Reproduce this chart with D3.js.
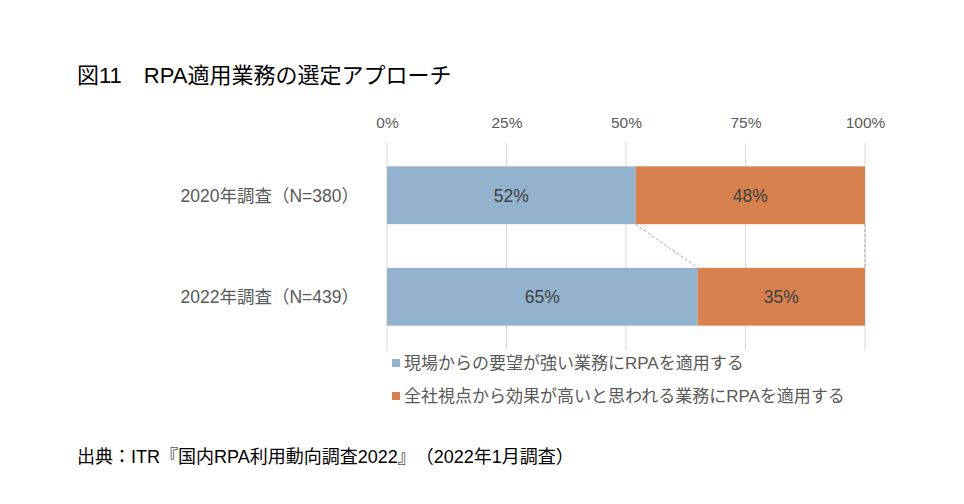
<!DOCTYPE html>
<html lang="ja">
<head>
  <meta charset="UTF-8">
  <title>RPA適用業務の選定アプローチ</title>
  <script src="https://d3js.org/d3.v7.min.js"></script>
  <style>
    body { margin: 0; background: #fff; }
    svg text { font-family: 'Liberation Sans', 'Noto Sans CJK JP', sans-serif; text-spacing-trim: space-all; }
  </style>
</head>
<body>
  <div id="chart"></div>
  <script>
    // データ
    const categories = ["2020年調査（N=380）", "2022年調査（N=439）"];
    const seriesNames = ["現場からの要望が強い業務にRPAを適用する", "全社視点から効果が高いと思われる業務にRPAを適用する"];
    const fieldDemand = [52, 65];
    const companyWide = [48, 35];
    const tickValues = [0, 25, 50, 75, 100];
    const colors = ["#93b2cd", "#d6814e"];

    const W = 964, H = 504;
    const svg = d3.select("#chart").append("svg")
      .attr("width", W).attr("height", H);

    // タイトル
    svg.append("text")
      .attr("x", 77).attr("y", 83)
      .attr("font-size", 22).attr("fill", "#000")
      .text("図11　RPA適用業務の選定アプローチ");

    const x = d3.scaleLinear().domain([0, 100]).range([387, 865]);
    const y = d3.scaleBand().domain(categories).range([143, 349])
      .paddingInner(0.43).paddingOuter(0.23);

    // グリッド線
    svg.append("g").selectAll("line")
      .data(tickValues)
      .join("line")
      .attr("x1", d => x(d)).attr("x2", d => x(d))
      .attr("y1", 143).attr("y2", 350)
      .attr("stroke", "#d9d9d9").attr("stroke-width", 1);

    // 上部の目盛ラベル
    const axisTop = svg.append("g")
      .attr("transform", "translate(0,131)")
      .call(d3.axisTop(x).tickValues(tickValues).tickFormat(d => d + "%").tickSize(0));
    axisTop.select(".domain").remove();
    axisTop.selectAll("text")
      .attr("font-family", null)
      .attr("font-size", 15.5).attr("fill", "#595959");

    // 積み上げ
    const rows = categories.map((c, i) => ({ cat: c, vals: [fieldDemand[i], companyWide[i]] }));
    const stacked = rows.map(r => {
      let acc = 0;
      return r.vals.map((v, k) => { const s = { cat: r.cat, k, x0: acc, x1: acc + v, v }; acc += v; return s; });
    });

    // 区分線（破線）
    const bw = y.bandwidth();
    const connectors = [0, 1].map(k => ({
      xa: stacked[0][k].x1, ya: y(categories[0]) + bw,
      xb: stacked[1][k].x1, yb: y(categories[1])
    }));
    svg.append("g").selectAll("line")
      .data(connectors)
      .join("line")
      .attr("x1", d => x(d.xa)).attr("y1", d => d.ya)
      .attr("x2", d => x(d.xb)).attr("y2", d => d.yb)
      .attr("stroke", "#a6a6a6").attr("stroke-width", 1)
      .attr("stroke-dasharray", "3,2");

    const segs = stacked.flat();
    svg.append("g").selectAll("rect")
      .data(segs)
      .join("rect")
      .attr("x", d => x(d.x0))
      .attr("y", d => y(d.cat))
      .attr("width", d => x(d.x1) - x(d.x0))
      .attr("height", bw)
      .attr("fill", d => colors[d.k]);

    svg.append("g").selectAll("text")
      .data(segs)
      .join("text")
      .attr("x", d => (x(d.x0) + x(d.x1)) / 2)
      .attr("y", d => y(d.cat) + bw / 2)
      .attr("dy", "0.36em")
      .attr("text-anchor", "middle")
      .attr("font-size", 17.5).attr("fill", "#404040")
      .text(d => d.v + "%");

    // カテゴリラベル
    svg.append("g").selectAll("text")
      .data(categories)
      .join("text")
      .attr("x", 359)
      .attr("y", d => y(d) + bw / 2)
      .attr("dy", "0.36em")
      .attr("text-anchor", "end")
      .attr("font-size", 17.5).attr("fill", "#595959")
      .text(d => d);

    // 凡例
    const legend = svg.append("g").selectAll("g")
      .data(seriesNames)
      .join("g")
      .attr("transform", (d, i) => `translate(392,${363 + i * 33})`);
    legend.append("rect")
      .attr("x", 0).attr("y", -4).attr("width", 8).attr("height", 8)
      .attr("fill", (d, i) => colors[i]);
    legend.append("text")
      .attr("x", 12).attr("y", 0).attr("dy", "0.36em")
      .attr("font-size", 17).attr("fill", "#595959")
      .text(d => d);

    // 出典
    svg.append("text")
      .attr("x", 77).attr("y", 463)
      .attr("font-size", 18).attr("fill", "#000")
      .text("出典：ITR『国内RPA利用動向調査2022』（2022年1月調査）");
  </script>
</body>
</html>
